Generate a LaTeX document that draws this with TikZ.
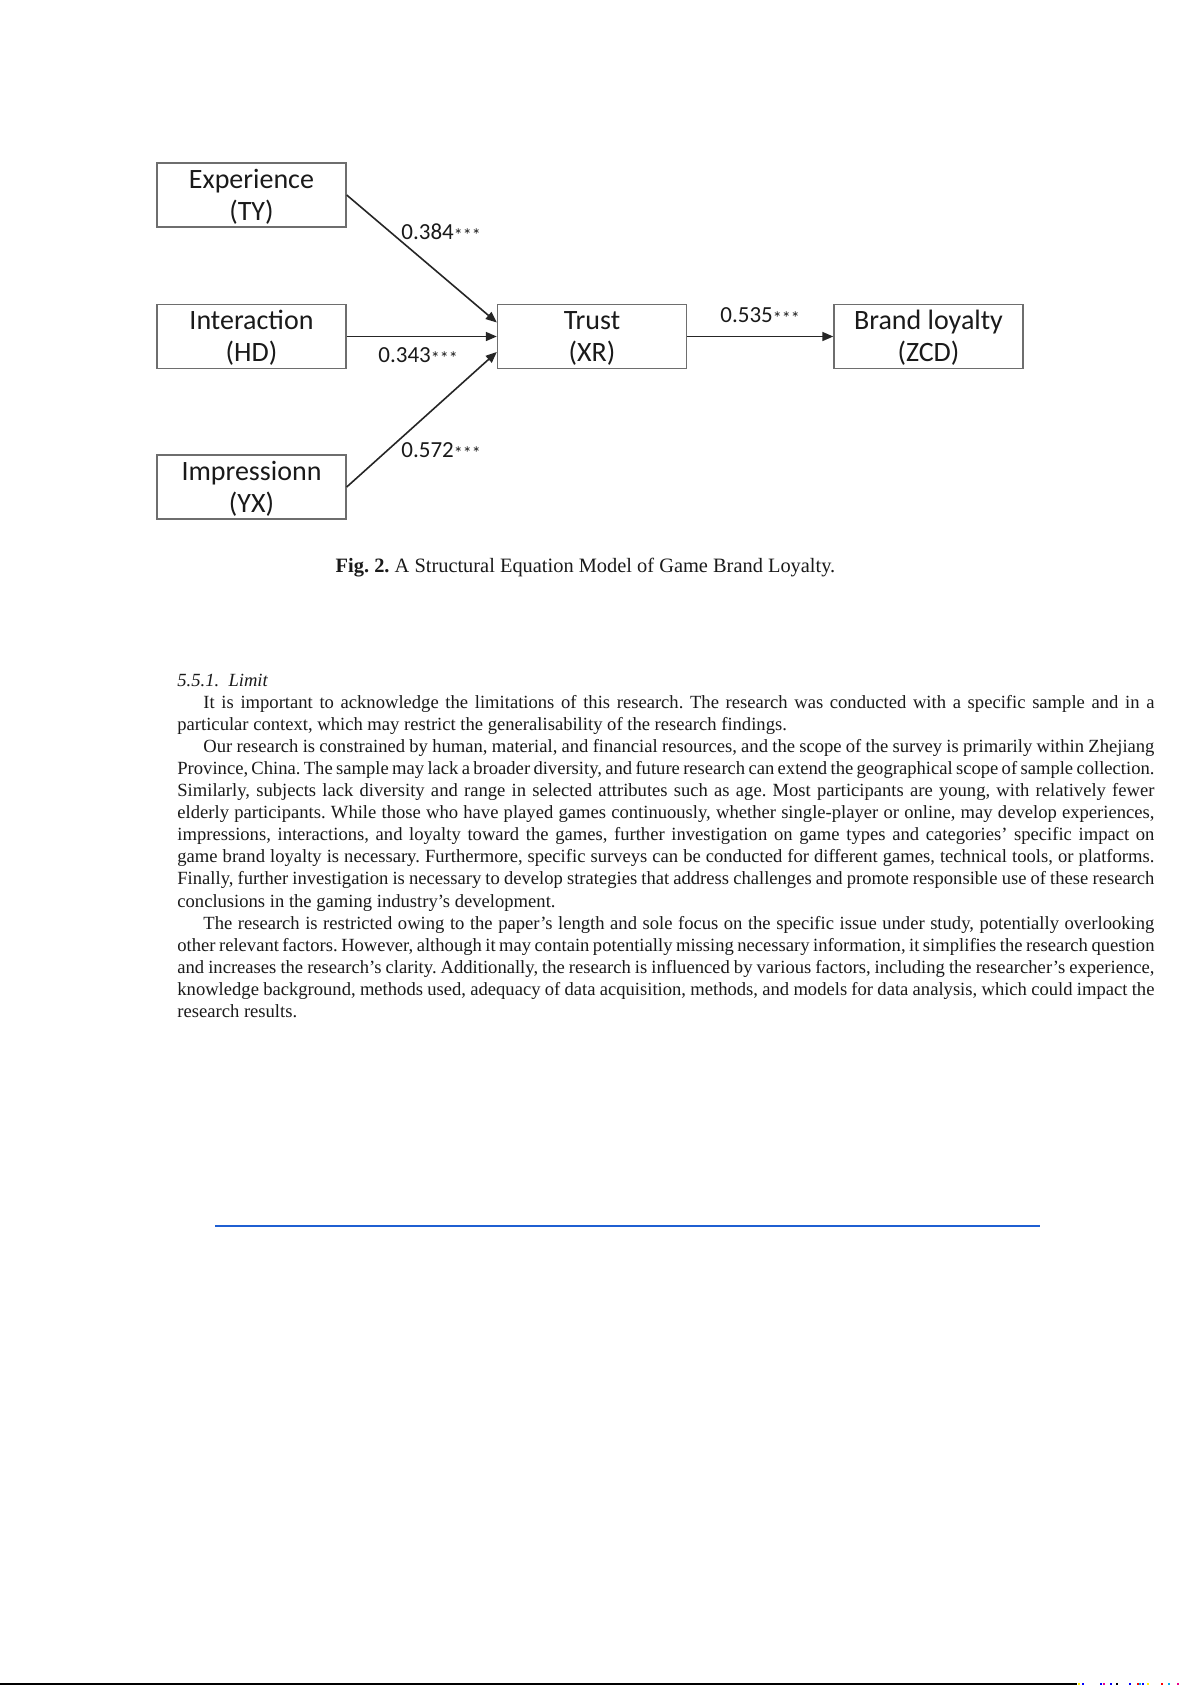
\documentclass[tikz,border=0pt]{standalone}
\usepackage{fontspec}
\setmainfont{Liberation Serif}
\newfontfamily\boxfont{Carlito}
\usetikzlibrary{arrows.meta,calc}
\definecolor{boxgray}{HTML}{6E6E6E}
\definecolor{textgray}{HTML}{1A1A1A}
\definecolor{linkblue}{HTML}{1F5FD2}
\newcommand\sigstars{\raisebox{-0.9bp}{\fontsize{9bp}{9bp}\selectfont ***}}
\newcommand\fullline[1]{\makebox[\linewidth][s]{#1}}
\newcommand\indline[1]{\hspace*{13bp}\makebox[\dimexpr\linewidth-13bp\relax][s]{#1}}
\newcommand\boxtext[2]{\raisebox{-1.3bp}[\height][\depth]{\begin{tabular}{@{}c@{}}#1\\#2\end{tabular}}}
\begin{document}
\begin{tikzpicture}[x=0.5bp,y=-0.5bp,
  varbox/.style={draw=boxgray, line width=0.7bp, minimum width=94.5bp, minimum height=32bp,
    inner sep=0pt, align=center, font=\boxfont\fontsize{14bp}{16bp}\selectfont, text=textgray},
  pathline/.style={draw=black!85, line width=0.8bp, -{Triangle[length=5.5bp,width=4.5bp]}},
  coef/.style={font=\boxfont\fontsize{11.5bp}{12bp}\selectfont, inner sep=0pt, anchor=west, text=textgray},
]
\fill[white] (0,0) rectangle (1192,1685);
\useasboundingbox (0,0) rectangle (1192,1685);

% diagram
\node[varbox] (exp) at (251.5,195) {\boxtext{Experience}{(TY)}};
\node[varbox] (int) at (251.5,336.5) {\boxtext{Interaction}{(HD)}};
\node[varbox] (imp) at (251.5,487) {\boxtext{Impressionn}{(YX)}};
\node[varbox] (trust) at (592,336.5) {\boxtext{Trust}{(XR)}};
\node[varbox] (brand) at (928.5,336.5) {\boxtext{Brand loyalty}{(ZCD)}};

\draw[pathline] (exp.east) -- ($(trust.west)+(0,-14)$);
\draw[pathline] (int.east) -- (trust.west);
\draw[pathline] (imp.east) -- ($(trust.west)+(0,15.5)$);
\draw[pathline] (trust.east) -- (brand.west);

\node[coef] (c1) at (401,233) {0.384\sigstars};
\node[coef] (c2) at (378,356) {0.343\sigstars};
\node[coef] (c3) at (401,451) {0.572\sigstars};
\node[coef] (c4) at (720,316) {0.535\sigstars};

\node[anchor=base, inner sep=0pt, font=\fontsize{10.2bp}{12bp}\selectfont, text=textgray] (caption) at (585.5,572)
  {\frenchspacing\textbf{Fig. 2.} A Structural Equation Model of Game Brand Loyalty.};

% text
\node[anchor=base west, inner sep=0pt, text width=488.5bp, align=left,
  font=\fontsize{9.3bp}{11.05bp}\selectfont, text=textgray] (limit) at (177,686) {%
\spaceskip=0pt\xspaceskip=0pt\frenchspacing
\textit{5.5.1.\ \ Limit}\\
\indline{It is important to acknowledge the limitations of this research. The research was conducted with a specific sample and in a}\\
particular context, which may restrict the generalisability of the research findings.\\
\indline{Our research is constrained by human, material, and financial resources, and the scope of the survey is primarily within Zhejiang}\\
\fullline{Province, China. The sample may lack a broader diversity, and future research can extend the geographical scope of sample collection.}\\
\fullline{Similarly, subjects lack diversity and range in selected attributes such as age. Most participants are young, with relatively fewer}\\
\fullline{elderly participants. While those who have played games continuously, whether single-player or online, may develop experiences,}\\
\fullline{impressions, interactions, and loyalty toward the games, further investigation on game types and categories’ specific impact on}\\
\fullline{game brand loyalty is necessary. Furthermore, specific surveys can be conducted for different games, technical tools, or platforms.}\\
\fullline{Finally, further investigation is necessary to develop strategies that address challenges and promote responsible use of these research}\\
conclusions in the gaming industry’s development.\\
\indline{The research is restricted owing to the paper’s length and sole focus on the specific issue under study, potentially overlooking}\\
\fullline{other relevant factors. However, although it may contain potentially missing necessary information, it simplifies the research question}\\
\fullline{and increases the research’s clarity. Additionally, the research is influenced by various factors, including the researcher’s experience,}\\
\fullline{knowledge background, methods used, adequacy of data acquisition, methods, and models for data analysis, which could impact the}\\
research results.};

% rules
\coordinate (bl1) at (215,1226);
\coordinate (bl2) at (1040,1226);
\draw[linkblue, line width=1bp] (bl1) -- (bl2);
\coordinate (kl1) at (0,1683.5);
\coordinate (kl2) at (1077,1683.5);
\draw[black, line width=1bp] (kl1) -- (kl2);
\foreach \px/\pc in {1078/yellow, 1082/blue, 1100/blue, 1103/magenta, 1110/blue, 1116/black,
  1129/blue, 1137/red, 1139/cyan, 1142/blue, 1147/yellow, 1161/red, 1168/cyan, 1177/magenta}
  \fill[\pc] (\px,1682.5) rectangle ++(1.5,2);
\end{tikzpicture}
\end{document}
